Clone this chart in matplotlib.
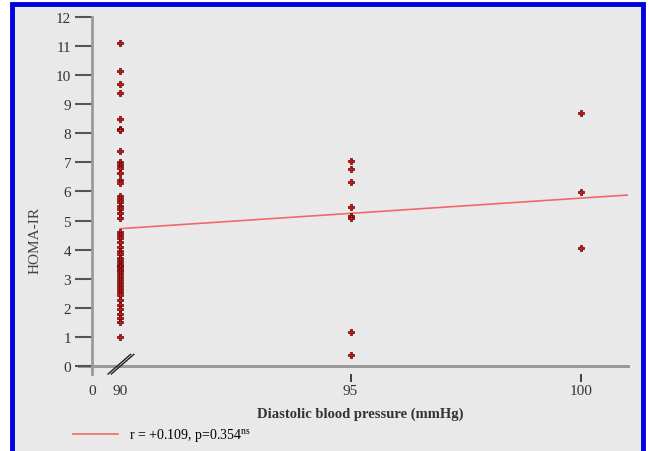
import matplotlib
matplotlib.use("Agg")
import matplotlib.pyplot as plt
from matplotlib.patches import Rectangle
from matplotlib.lines import Line2D

# ---- data ----
dbp_90 = [11.1, 10.15, 9.7, 9.4, 8.5, 8.15, 8.1, 7.4, 7.0, 6.9, 6.8, 6.65, 6.4, 6.3,
          5.85, 5.75, 5.65, 5.5, 5.4, 5.25, 5.1, 4.6, 4.5, 4.4, 4.25, 4.1, 3.95, 3.85,
          3.7, 3.6, 3.5, 3.45, 3.4, 3.3, 3.25, 3.15, 3.05, 2.95, 2.85, 2.75, 2.65,
          2.55, 2.45, 2.25, 2.1, 1.95, 1.8, 1.65, 1.5, 1.0]
dbp_95 = [7.05, 6.77, 6.33, 5.47, 5.15, 5.1, 1.18, 0.38]
dbp_100 = [8.71, 5.99, 4.06]
groups = [90, 95, 100]
fit_intercept_at_90 = 4.72
fit_slope = 0.105
fit_x_range = [90, 101.02]
yticks = list(range(0, 13))
xticks = [95, 100]
xtick_labels = ["95", "100"]
legend_label = r"r = +0.109, p=0.354$^{\mathrm{ns}}$"

plt.rcParams["font.family"] = ["Liberation Serif", "DejaVu Serif"]
plt.rcParams["mathtext.fontset"] = "custom"
plt.rcParams["mathtext.rm"] = "Liberation Serif"

W, H = 649, 452
fig = plt.figure(figsize=(W / 100, H / 100), dpi=100, facecolor="white")

# blue frame with grey inside
fig.patches.append(Rectangle((12 / W, -0.05), (643 - 12) / W, 1.05 - 5 / H,
                             transform=fig.transFigure, facecolor="#e9e9e9",
                             edgecolor="#0000dd", linewidth=3.5, zorder=-10))

ax = fig.add_axes([92 / W, 1 - 375 / H, (628 - 92) / W, (375 - 18) / H])
ax.set_zorder(5)
ax.set_facecolor("none")
x_left = 89.39
ax.set_xlim(x_left, 101.02)
ax.set_ylim(-0.28, 12.0)

for spine in ["top", "right", "bottom"]:
    ax.spines[spine].set_visible(False)
ax.spines["left"].set_color("#9a9a9a")
ax.spines["left"].set_linewidth(2)
ax.axhline(0, color="#9a9a9a", lw=2.2, zorder=1, xmin=-0.025, clip_on=False)

ax.set_yticks(yticks)
ax.set_yticklabels([str(v) for v in yticks])
ax.tick_params(axis="y", direction="out", length=12, width=1.5, color="#555555",
               labelsize=11, pad=3, labelcolor="#333333")

ax.set_xticks([x_left, 90] + xticks)
ax.set_xticklabels(["0", "90"] + xtick_labels)
ax.tick_params(axis="x", direction="out", length=6, width=1.3, color="#333333",
               labelsize=11, pad=1, labelcolor="#333333")
for t in ax.xaxis.get_major_ticks()[:2]:
    t.tick1line.set_visible(False)

# axis break marks
for dx in (0, 0.006):
    ax.plot([0.03 + dx, 0.072 + dx], [0.0, 0.055], transform=ax.transAxes,
            color="#222222", lw=1, clip_on=False, zorder=3)

# points
mk = dict(marker="P", ms=4.2, mfc="#d01515", mec="#5a0000", mew=0.5, ls="none", zorder=4)
for g, vals in zip(groups, [dbp_90, dbp_95, dbp_100]):
    ax.plot([g] * len(vals), vals, **mk)

# regression line
fy = [fit_intercept_at_90 + fit_slope * (x - 90) for x in fit_x_range]
ax.plot(fit_x_range, fy, color="#ee6a6a", lw=1.2, zorder=3)

ax.set_ylabel("HOMA-IR", fontsize=11, color="#444444", labelpad=12)
ax.yaxis.set_label_coords(-0.095, 0.378)
ax.set_xlabel("Diastolic blood pressure (mmHg)", fontsize=10.5, fontweight="bold",
              color="#333333", labelpad=12)
ax.xaxis.set_label_coords(0.5, -0.09)

handle = Line2D([], [], color="#ee6a6a", lw=1.2)
fig.legend([handle], [legend_label], loc="center left",
           bbox_to_anchor=(60 / W, 1 - 436 / H), frameon=False, fontsize=10,
           handlelength=3.3, handletextpad=0.8)

fig.savefig("out.png", dpi=100, facecolor=fig.get_facecolor())
